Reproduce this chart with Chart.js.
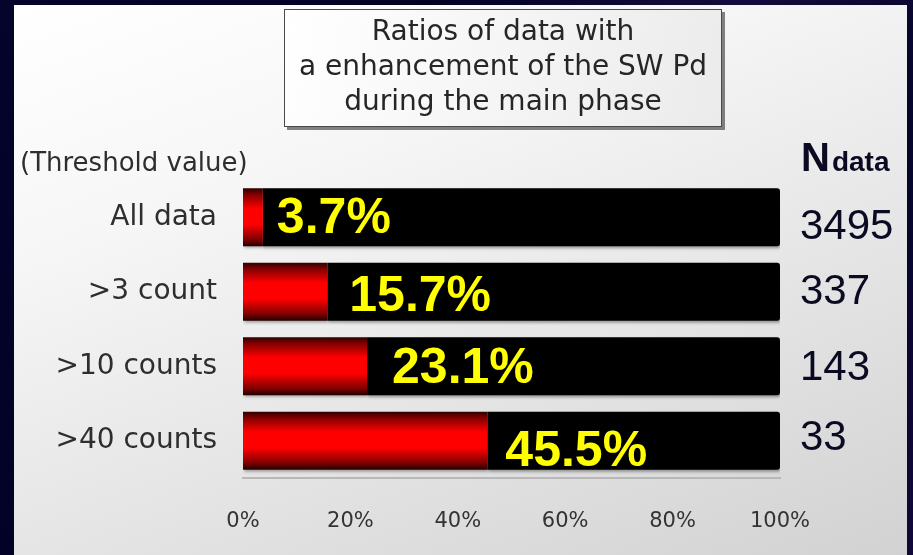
<!DOCTYPE html>
<html>
<head>
<meta charset="utf-8">
<script src="https://cdn.jsdelivr.net/npm/chart.js@4"></script>
<style>
  html, body { margin: 0; padding: 0; }
  body {
    width: 913px; height: 555px; overflow: hidden; position: relative;
    background: linear-gradient(120deg, #04042c 0%, #020224 35%, #150a3c 60%, #05052a 80%, #120838 100%);
  }
  #panel {
    position: absolute; left: 14px; top: 5px; width: 893px; height: 550px;
    background: linear-gradient(160deg, #ffffff 0%, #f6f6f6 30%, #e4e4e4 65%, #d2d2d2 100%);
  }
  #c { position: absolute; left: 0; top: 0; }
</style>
</head>
<body>
<div id="panel"></div>
<canvas id="c" width="913" height="555"></canvas>
<script>
// ---- data ----
const categories = ['All data', '>3 count', '>10 counts', '>40 counts'];
const ratioPct = [3.7, 15.7, 23.1, 45.5];
const restPct = [96.3, 84.3, 76.9, 54.5];
const nData = [3495, 337, 143, 33];
const ratioLabels = ['3.7%', '15.7%', '23.1%', '45.5%'];
const titleLines = ['Ratios of data with', 'a enhancement of the SW Pd', 'during the main phase'];
const axisTitle = '(Threshold value)';

// ---- style nudges (not data) ----
const labelDx = [14, 22, 25, 18];
const labelDy = [2, 5, 3, 11];
const nDy = [10, 1, 2, -2];
const GO = '"DejaVu Sans", "Noto Sans", sans-serif';
const AR = '"Liberation Sans", Arial, sans-serif';
const BAR_PCT = 0.78;

function redGradient(c) {
  const ch = c.chart;
  const sc = ch.scales.y;
  if (!sc || !ch.chartArea) return '#ff0000';
  const y = sc.getPixelForValue(c.dataIndex);
  const h = sc.height / categories.length * BAR_PCT;
  const g = ch.ctx.createLinearGradient(0, y - h / 2, 0, y + h / 2);
  g.addColorStop(0, '#300000');
  g.addColorStop(0.12, '#8a0000');
  g.addColorStop(0.35, '#ff0000');
  g.addColorStop(0.62, '#ff0000');
  g.addColorStop(0.88, '#800000');
  g.addColorStop(1, '#220000');
  return g;
}

const decor = {
  id: 'decor',
  beforeDraw(chart) {
    const ctx = chart.ctx;
    ctx.save();
    // title box
    const bx = 284, by = 9, bw = 438, bh = 118;
    ctx.fillStyle = 'rgba(50,50,50,0.6)';
    ctx.fillRect(bx + 3, by + 3, bw, bh);
    const g = ctx.createLinearGradient(bx, by, bx + bw, by + bh);
    g.addColorStop(0, '#ffffff');
    g.addColorStop(1, '#ebebeb');
    ctx.fillStyle = g;
    ctx.fillRect(bx, by, bw, bh);
    ctx.strokeStyle = '#4a4a4a';
    ctx.lineWidth = 1;
    ctx.strokeRect(bx + 0.5, by + 0.5, bw - 1, bh - 1);
    ctx.fillStyle = '#262626';
    ctx.font = '28px ' + GO;
    ctx.textAlign = 'center';
    ctx.textBaseline = 'middle';
    titleLines.forEach((t, i) => ctx.fillText(t, bx + bw / 2, 33 + i * 35));
    // axis title
    ctx.textAlign = 'left';
    ctx.font = '26px ' + GO;
    ctx.fillStyle = '#2e2e2e';
    ctx.fillText(axisTitle, 20, 164);
    // N data header
    ctx.textBaseline = 'alphabetic';
    ctx.fillStyle = '#0a0a22';
    ctx.font = 'bold 40px ' + AR;
    ctx.fillText('N', 801, 171);
    const nw = ctx.measureText('N').width;
    ctx.font = 'bold 28px ' + AR;
    ctx.fillText('data', 801 + nw + 2, 171);
    ctx.restore();
  },
  beforeDatasetsDraw(chart) {
    const ctx = chart.ctx;
    ctx.save();
    ctx.shadowColor = 'rgba(0,0,0,0.35)';
    ctx.shadowBlur = 3;
    ctx.shadowOffsetX = 1;
    ctx.shadowOffsetY = 2;
  },
  afterDatasetsDraw(chart) {
    const ctx = chart.ctx;
    ctx.restore();
    const meta = chart.getDatasetMeta(0);
    ctx.save();
    ctx.textBaseline = 'middle';
    meta.data.forEach((bar, i) => {
      ctx.font = 'bold 50px ' + AR;
      ctx.fillStyle = '#ffff00';
      ctx.textAlign = 'left';
      ctx.fillText(ratioLabels[i], bar.x + labelDx[i], bar.y + labelDy[i]);
      ctx.font = '42px ' + AR;
      ctx.fillStyle = '#0a0a22';
      ctx.fillText(String(nData[i]), 800, bar.y + nDy[i]);
    });
    ctx.restore();
  }
};

new Chart(document.getElementById('c'), {
  type: 'bar',
  data: {
    labels: categories,
    datasets: [
      { label: 'ratio', data: ratioPct, backgroundColor: redGradient, borderWidth: 0,
        barPercentage: BAR_PCT, categoryPercentage: 1 },
      { label: 'rest', data: restPct, backgroundColor: '#000000', borderWidth: 0,
        borderRadius: 3, borderSkipped: 'start',
        barPercentage: BAR_PCT, categoryPercentage: 1 }
    ]
  },
  options: {
    indexAxis: 'y',
    responsive: false,
    animation: false,
    devicePixelRatio: 1,
    layout: { padding: { left: 0, right: 133, top: 180, bottom: 0 } },
    plugins: { legend: { display: false }, tooltip: { enabled: false }, title: { display: false } },
    scales: {
      x: {
        stacked: true, min: 0, max: 100,
        afterFit(s) { s.height = 77; },
        ticks: { stepSize: 20, callback: v => v + '%', color: '#333',
                 font: { family: GO, size: 21 }, padding: 31 },
        grid: { display: false, drawTicks: false },
        border: { display: true, color: '#b8b8b8', width: 2 }
      },
      y: {
        stacked: true,
        afterFit(s) { s.width = 243; },
        ticks: { color: '#2e2e2e', font: { family: GO, size: 28 }, padding: 26 },
        grid: { display: false, drawTicks: false },
        border: { display: false }
      }
    }
  },
  plugins: [decor]
});
</script>
</body>
</html>
